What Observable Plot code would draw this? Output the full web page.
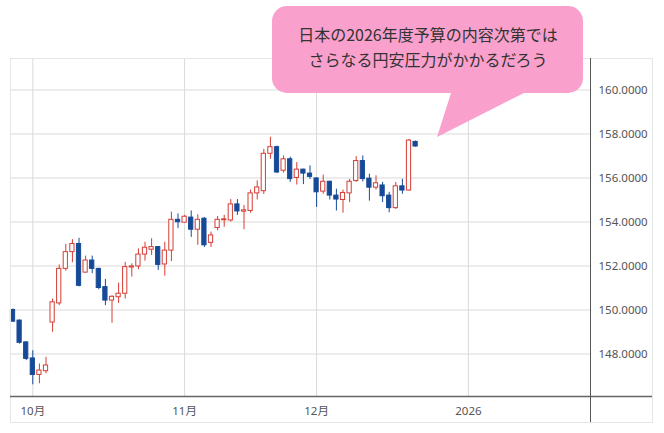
<!DOCTYPE html>
<html><head><meta charset="utf-8">
<script src="https://cdn.jsdelivr.net/npm/d3@7"></script>
<script src="https://cdn.jsdelivr.net/npm/@observablehq/plot@0.6"></script>
<style>
html,body{margin:0;padding:0;background:#fff}
#chart{width:664px;height:433px}
</style>
</head><body><div id="chart"></div>
<script>
// ---- data (USD/JPY daily candles) ----
const dates = ["2025-09-26","2025-09-29","2025-09-30","2025-10-01","2025-10-02","2025-10-03","2025-10-06","2025-10-07","2025-10-08","2025-10-09","2025-10-10","2025-10-13","2025-10-14","2025-10-15","2025-10-16","2025-10-17","2025-10-20","2025-10-21","2025-10-22","2025-10-23","2025-10-24","2025-10-27","2025-10-28","2025-10-29","2025-10-30","2025-10-31","2025-11-03","2025-11-04","2025-11-05","2025-11-06","2025-11-07","2025-11-10","2025-11-11","2025-11-12","2025-11-13","2025-11-14","2025-11-17","2025-11-18","2025-11-19","2025-11-20","2025-11-21","2025-11-24","2025-11-25","2025-11-26","2025-11-27","2025-11-28","2025-12-01","2025-12-02","2025-12-03","2025-12-04","2025-12-05","2025-12-08","2025-12-09","2025-12-10","2025-12-11","2025-12-12","2025-12-15","2025-12-16","2025-12-17","2025-12-18","2025-12-19","2025-12-22"];
const open  = [150.00,149.52,148.53,147.80,147.05,147.22,149.43,150.30,151.87,152.63,153.00,151.70,152.25,151.87,151.04,150.43,150.58,150.74,151.93,151.98,152.52,152.74,152.86,152.07,152.70,154.10,153.97,154.20,153.65,154.15,153.05,153.73,154.08,154.07,154.80,154.47,154.50,155.30,155.40,157.10,157.40,156.33,156.85,156.00,156.38,156.20,155.98,155.38,155.83,155.20,155.00,155.30,155.86,156.77,155.97,155.56,155.66,155.20,154.63,155.62,155.43,157.64];
const high  = [150.05,149.55,148.55,148.15,147.55,147.85,150.50,152.05,152.98,153.20,153.26,152.45,152.45,151.90,151.39,150.65,151.22,152.17,152.10,152.78,153.08,153.24,152.88,153.08,154.45,154.37,154.30,154.50,154.33,154.20,153.54,154.25,154.30,155.02,155.02,154.75,155.45,155.87,157.30,157.85,157.45,157.00,156.95,156.70,156.40,156.55,156.00,156.13,155.85,155.49,155.45,155.93,156.97,157.00,156.17,156.10,155.80,155.35,155.80,155.94,157.75,157.68];
const low   = [149.45,148.45,147.70,146.60,146.65,147.10,148.99,150.20,151.76,152.15,151.05,151.68,151.65,150.92,150.20,149.40,150.30,150.50,151.50,151.83,152.22,152.48,151.80,151.54,152.20,153.70,153.95,153.30,152.94,152.84,152.84,153.60,153.76,154.00,154.30,153.65,154.40,155.00,155.25,156.85,156.20,156.22,155.80,155.68,155.70,155.93,154.66,155.26,155.00,154.50,154.40,154.88,155.80,155.82,154.95,155.45,154.88,154.42,154.57,155.26,155.40,157.40];
const close = [149.47,148.51,147.78,147.05,147.25,147.48,150.35,151.87,152.63,153.00,151.10,152.25,151.87,151.00,150.43,150.60,150.74,151.95,151.98,152.52,152.83,152.86,152.05,152.70,154.10,153.99,154.24,153.65,154.10,152.94,153.39,154.10,154.12,154.80,154.48,154.53,155.30,155.57,157.10,157.40,156.25,156.85,155.95,156.38,156.20,156.05,155.35,155.83,155.20,155.02,155.32,155.83,156.77,155.95,155.56,155.76,155.17,154.63,155.62,155.43,157.70,157.43];

const yTicks = [148, 150, 152, 154, 156, 158, 160];
const xTickDates = ["2025-10-01", "2025-11-03", "2025-12-01", "2026-01-01"];
const xTickLabels = ["10月", "11月", "12月", "2026"];
const calloutLines = ["日本の2026年度予算の内容次第では", "さらなる円安圧力がかかるだろう"];

// ---- trading-day (weekday) calendar ----
const days = [];
for (let d = new Date(Date.UTC(2025, 8, 26)); days.length < 95; d.setUTCDate(d.getUTCDate() + 1)) {
  const w = d.getUTCDay();
  if (w !== 0 && w !== 6) days.push(d.toISOString().slice(0, 10));
}
const dayIndex = new Map(days.map((d, i) => [d, i]));
const candles = dates.map((d, k) => ({
  i: dayIndex.get(d), o: open[k], h: high[k], l: low[k], c: close[k], up: close[k] >= open[k]
}));
const xTickIdx = xTickDates.map(d => dayIndex.get(d));

const RED = "#d63c33", BLUE = "#164a97", GRID = "#dadada";
const FONT = "'Noto Sans','Noto Sans CJK JP',sans-serif";

const chart = Plot.plot({
  width: 664, height: 433,
  marginLeft: 10, marginRight: 74, marginTop: 58, marginBottom: 37,
  x: {type: "linear", domain: [-0.38, 87.5], label: null},
  y: {domain: [146.07, 161.43], label: null},
  color: {type: "identity"},
  style: {fontFamily: FONT, fontSize: "11.5px", color: "#555", background: "#fff"},
  marks: [
    Plot.gridY(yTicks, {stroke: GRID, strokeOpacity: 1}),
    Plot.gridX(xTickIdx, {stroke: GRID, strokeOpacity: 1}),
    Plot.ruleX(candles, {x: "i", y1: "l", y2: "h", stroke: d => d.up ? RED : BLUE, strokeWidth: 1}),
    Plot.rect(candles, {
      x1: d => d.i - 0.32, x2: d => d.i + 0.32,
      y1: d => Math.min(d.o, d.c), y2: d => Math.max(d.o, d.c),
      fill: d => d.up ? "#fff" : BLUE, stroke: d => d.up ? RED : BLUE, strokeWidth: 1
    }),
    Plot.axisY(yTicks, {anchor: "right", label: null, tickSize: 0, tickPadding: 8, tickFormat: d => d.toFixed(4), fill: "#555"}),
    Plot.axisX(xTickIdx, {anchor: "bottom", label: null, tickSize: 0, tickPadding: 10, tickFormat: d => xTickLabels[xTickIdx.indexOf(d)], fill: "#555"})
  ]
});
document.getElementById("chart").appendChild(chart);

// ---- frame, axis lines and callout ----
const svg = d3.select(chart);
const L = 10, T = 58, R = 590, B = 396, FR = 652, FB = 422;
svg.append("rect").attr("x", L + 0.5).attr("y", T + 0.5).attr("width", FR - L).attr("height", FB - T)
  .attr("fill", "none").attr("stroke", "#e6e6e6");
svg.append("line").attr("x1", L).attr("x2", FR).attr("y1", B + 0.5).attr("y2", B + 0.5)
  .attr("stroke", "#666").attr("stroke-width", 1.5);
svg.append("line").attr("x1", R + 0.5).attr("x2", R + 0.5).attr("y1", T).attr("y2", FB)
  .attr("stroke", "#555").attr("stroke-width", 1);

const callout = svg.append("g");
callout.append("polygon").attr("points", "452,90 530,90 437,137").attr("fill", "#f9a0cc");
callout.append("rect").attr("x", 272).attr("y", 6).attr("width", 311).attr("height", 87)
  .attr("rx", 15).attr("fill", "#f9a0cc");
callout.selectAll("text.c").data(calloutLines).join("text")
  .attr("x", 428).attr("y", (d, i) => 41 + i * 25)
  .attr("text-anchor", "middle").attr("font-family", "'Noto Sans CJK JP',sans-serif")
  .attr("font-size", 16).attr("fill", "#333").text(d => d);
</script>
</body></html>
